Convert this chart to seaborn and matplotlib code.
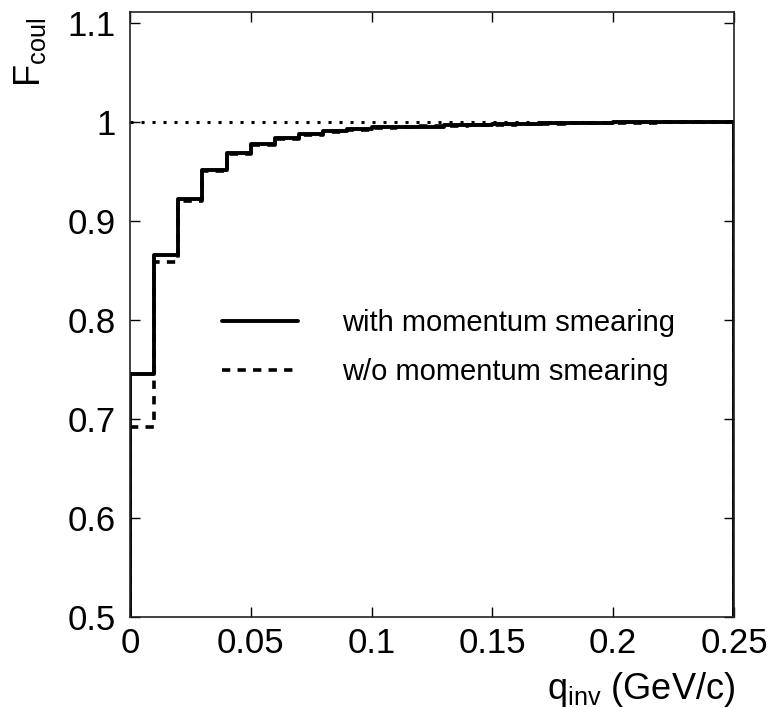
import numpy as np
import pandas as pd
import matplotlib
matplotlib.use("Agg")
import matplotlib.pyplot as plt
from matplotlib.lines import Line2D
import seaborn as sns

# bin edges of q_inv (GeV/c)
bin_edges = [round(0.01 * i, 2) for i in range(26)]
# F_coul with momentum smearing
f_with = [0.745, 0.866, 0.922, 0.951, 0.968, 0.9775, 0.984, 0.988, 0.991, 0.9927,
          0.995, 0.995, 0.995, 0.9967, 0.9967, 0.998, 0.998, 0.9985, 0.999, 0.999,
          0.9993, 0.9993, 0.9995, 0.9995, 0.9995]
# F_coul without momentum smearing
f_without = [0.692, 0.858, 0.9205, 0.950, 0.967, 0.977, 0.983, 0.987, 0.990, 0.992,
             0.994, 0.995, 0.996, 0.996, 0.997, 0.997, 0.998, 0.998, 0.999, 0.999,
             0.999, 0.999, 0.9995, 0.9995, 0.9995]
labels = ["with momentum smearing", "w/o momentum smearing"]
x_ticks = [0, 0.05, 0.1, 0.15, 0.2, 0.25]
x_tick_labels = ["0", "0.05", "0.1", "0.15", "0.2", "0.25"]
y_ticks = [0.5, 0.6, 0.7, 0.8, 0.9, 1.0, 1.1]
y_tick_labels = ["0.5", "0.6", "0.7", "0.8", "0.9", "1", "1.1"]
reference_level = 1.0

sns.set_theme(style="ticks")
plt.rcParams["font.family"] = ["Liberation Sans", "DejaVu Sans"]
plt.rcParams["mathtext.fontset"] = "custom"
plt.rcParams["mathtext.rm"] = "Liberation Sans"
for k in ["text.color", "axes.labelcolor", "xtick.color", "ytick.color"]:
    plt.rcParams[k] = "black"

centers = [(a + b) / 2 for a, b in zip(bin_edges[:-1], bin_edges[1:])]
df = pd.DataFrame({
    "q": centers * 2,
    "F": f_with + f_without,
    "series": [labels[0]] * len(f_with) + [labels[1]] * len(f_without),
})

fig = plt.figure(figsize=(7.73, 7.08), dpi=100)
ax = fig.add_axes([0.168, 0.1285, 0.7815, 0.8545])

dash = (0, (2.3, 2.0))
styles = {labels[1]: dict(linestyle=dash, linewidth=2.6),
          labels[0]: dict(linestyle="-", linewidth=2.8)}
for lab in [labels[1], labels[0]]:
    sub = df[df["series"] == lab]
    st = styles[lab]
    sns.histplot(data=sub, x="q", weights="F", bins=bin_edges, element="step",
                 fill=False, color="black", ax=ax, **st)
    vals = sub["F"].tolist()
    # closing edges of the histogram down to the baseline
    ax.plot([bin_edges[0], bin_edges[0]], [0, vals[0]], color="black", **st)
    ax.plot([bin_edges[-1], bin_edges[-1]], [0, vals[-1]], color="black", **st)

ax.axhline(reference_level, color="black", lw=2.2, linestyle=(0, (1, 2.6)), zorder=0)

ax.set_xlim(0, 0.25)
ax.set_ylim(0.5, 1.1108)
ax.set_xticks(x_ticks, x_tick_labels)
ax.set_yticks(y_ticks, y_tick_labels)
ax.tick_params(direction="in", length=7, width=1, labelsize=25, top=True, right=True,
               colors="black")
ax.tick_params(axis="x", pad=7)
ax.tick_params(axis="y", pad=10)
ax.set_xlabel("")
ax.set_ylabel("")
for s in ax.spines.values():
    s.set_visible(True)
    s.set_linewidth(1.2)
    s.set_color("#222222")

hs = [Line2D([], [], color="black", **styles[labels[0]]),
      Line2D([], [], color="black", **styles[labels[1]])]
ax.legend(hs, labels, loc="upper left", bbox_to_anchor=(222 / 773, 1 - 309 / 708),
          bbox_transform=fig.transFigure, frameon=False, fontsize=21,
          handlelength=2.6, handletextpad=1.5, labelspacing=0.73, borderpad=0,
          borderaxespad=0, labelcolor="black")

fig.text(30 / 773, 1 - 52 / 708, r"F$_{\mathregular{coul}}$", rotation=90,
         fontsize=26, ha="center", va="center")
fig.text(735 / 773, 1 - 699 / 708, r"q$_{\mathregular{inv}}$ (GeV/c)",
         fontsize=26, ha="right", va="baseline")

fig.savefig("out.png", dpi=100)
